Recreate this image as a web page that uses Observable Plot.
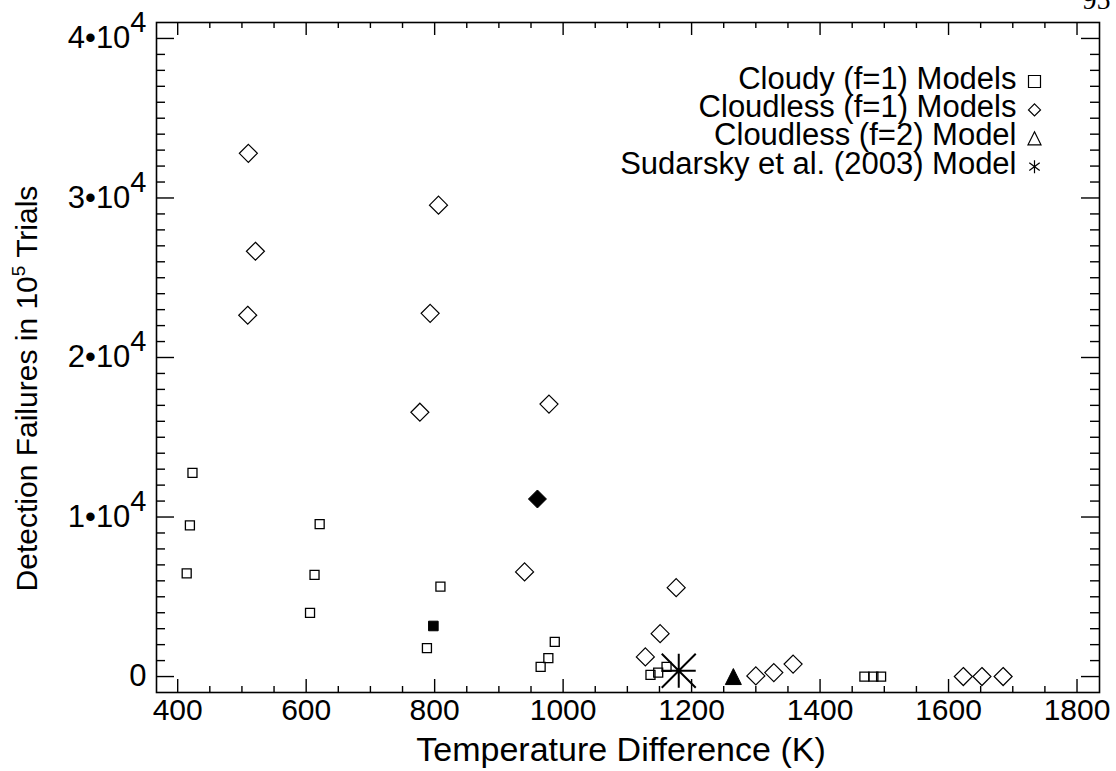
<!DOCTYPE html>
<html><head><meta charset="utf-8">
<script src="https://cdn.jsdelivr.net/npm/d3@7"></script>
<script src="https://cdn.jsdelivr.net/npm/@observablehq/plot@0.6"></script>
<style>
html,body{margin:0;padding:0;background:#fff;}
#chart{width:1116px;height:771px;overflow:hidden;}
</style></head><body><div id="chart"></div>
<script>
// ---- data ----
const cloudyX = [423, 419, 414, 621, 613, 606, 809, 788, 987, 977, 965, 1136, 1148, 1161, 1469, 1483, 1495];
const cloudyY = [12770, 9480, 6470, 9560, 6370, 3990, 5640, 1780, 2170, 1150, 610, 100, 250, 610, 0, 0, 0];
const cloudyFilledX = [798];
const cloudyFilledY = [3170];
const cloudlessX = [510, 806, 521, 509, 793, 777, 978, 940, 1176, 1151, 1128, 1300, 1328, 1358, 1623, 1652, 1685];
const cloudlessY = [32800, 29550, 26660, 22650, 22770, 16570, 17080, 6560, 5570, 2690, 1230, 40, 250, 780, 0, 0, 0];
const cloudlessFilledX = [960];
const cloudlessFilledY = [11130];
const cloudlessF2X = [1265];
const cloudlessF2Y = [0];
const sudarskyX = [1180];
const sudarskyY = [360];

const xMajor = [400, 600, 800, 1000, 1200, 1400, 1600, 1800];
const yMajor = [0, 10000, 20000, 30000, 40000];
const yMantissa = ["0", "1", "2", "3", "4"];
const yExponent = "4";
const xMinor = d3.range(400, 1801, 50).filter(v => !xMajor.includes(v));
const yMinor = d3.range(1000, 40001, 1000).filter(v => !yMajor.includes(v));

const legendLabels = ["Cloudy (f=1) Models", "Cloudless (f=1) Models", "Cloudless (f=2) Model", "Sudarsky et al. (2003) Model"];
const xTitle = "Temperature Difference (K)";
const yTitle = "Detection Failures in 10^5 Trials";
const pageNumber = "95";

// ---- symbols ----
const rOf = size => Math.sqrt(size / Math.PI);
const symSquare = {draw(c, s) { const r = rOf(s); c.moveTo(-r, -r); c.lineTo(r, -r); c.lineTo(r, r); c.lineTo(-r, r); c.closePath(); }};
const symDiamond = {draw(c, s) { const r = rOf(s); c.moveTo(0, -r); c.lineTo(r, 0); c.lineTo(0, r); c.lineTo(-r, 0); c.closePath(); }};
const symTriangle = {draw(c, s) { const r = rOf(s); c.moveTo(0, -r); c.lineTo(r, r); c.lineTo(-r, r); c.closePath(); }};
const symStar8 = {draw(c, s) { const r = rOf(s);
  c.moveTo(-r, 0); c.lineTo(r, 0); c.moveTo(0, -r); c.lineTo(0, r);
  c.moveTo(-r, -r); c.lineTo(r, r); c.moveTo(-r, r); c.lineTo(r, -r); }};
const symStar6 = {draw(c, s) { const r = rOf(s);
  c.moveTo(0, -r); c.lineTo(0, r);
  c.moveTo(-0.8 * r, -0.6 * r); c.lineTo(0.8 * r, 0.6 * r); c.moveTo(-0.8 * r, 0.6 * r); c.lineTo(0.8 * r, -0.6 * r); }};

const zip = (xs, ys) => xs.map((x, i) => ({x, y: ys[i]}));
const cloudy = zip(cloudyX, cloudyY);
const cloudyFilled = zip(cloudyFilledX, cloudyFilledY);
const cloudless = zip(cloudlessX, cloudlessY);
const cloudlessFilled = zip(cloudlessFilledX, cloudlessFilledY);
const cloudlessF2 = zip(cloudlessF2X, cloudlessF2Y);
const sudarsky = zip(sudarskyX, sudarskyY);

const W = 1116, H = 771, mL = 156, mR = 17, mT = 22, mB = 79;
const fw = W - mL - mR, fh = H - mT - mB;
const FONT = "'Liberation Sans', Arial, Helvetica, sans-serif";

const legendSymbols = [
  {symbol: symSquare, r: 6, fill: "none"},
  {symbol: symDiamond, r: 6, fill: "none"},
  {symbol: symTriangle, r: 6.5, fill: "none"},
  {symbol: symStar6, r: 6.5, fill: "none"}
];

const svg = Plot.plot({
  width: W, height: H,
  marginLeft: mL, marginRight: mR, marginTop: mT, marginBottom: mB,
  x: {domain: [367, 1835]},
  y: {domain: [-1000, 41000]},
  style: {fontFamily: FONT, background: "white", color: "black"},
  marks: [
    // ticks on all four sides
    Plot.tickX(xMajor, {x: d => d, insetTop: fh - 13, stroke: "black", strokeWidth: 1.4}),
    Plot.tickX(xMinor, {x: d => d, insetTop: fh - 6, stroke: "black", strokeWidth: 1.4}),
    Plot.tickX(xMajor, {x: d => d, insetBottom: fh - 13, stroke: "black", strokeWidth: 1.4}),
    Plot.tickX(xMinor, {x: d => d, insetBottom: fh - 6, stroke: "black", strokeWidth: 1.4}),
    Plot.tickY(yMajor, {y: d => d, insetRight: fw - 18, stroke: "black", strokeWidth: 1.4}),
    Plot.tickY(yMinor, {y: d => d, insetRight: fw - 9, stroke: "black", strokeWidth: 1.4}),
    Plot.tickY(yMajor, {y: d => d, insetLeft: fw - 18, stroke: "black", strokeWidth: 1.4}),
    Plot.tickY(yMinor, {y: d => d, insetLeft: fw - 9, stroke: "black", strokeWidth: 1.4}),
    Plot.frame({stroke: "black", strokeWidth: 1.6}),
    Plot.axisX(xMajor, {anchor: "bottom", tickSize: 0, tickPadding: 6, fontSize: 30, tickFormat: d => String(d), label: null}),
    Plot.axisY(yMajor, {anchor: "left", tickSize: 0, tickPadding: 10, fontSize: 31,
      tickFormat: d => { const i = yMajor.indexOf(d); return d === 0 ? yMantissa[i] : `${yMantissa[i]}•10^${yExponent}`; }, label: null}),
    Plot.text([xTitle], {frameAnchor: "bottom", dx: -7, dy: 68, lineAnchor: "bottom", fontSize: 34}),
    Plot.text([yTitle], {frameAnchor: "left", rotate: -90, dx: -120, dy: 31, lineAnchor: "bottom", textAnchor: "middle", fontSize: 30}),
    // data
    Plot.dot(cloudy, {x: "x", y: "y", symbol: symSquare, r: 4.5, stroke: "black", fill: "none", strokeWidth: 1.3}),
    Plot.dot(cloudyFilled, {x: "x", y: "y", symbol: symSquare, r: 4.8, stroke: "black", fill: "black", strokeWidth: 1}),
    Plot.dot(cloudless, {x: "x", y: "y", symbol: symDiamond, r: 9, stroke: "black", fill: "none", strokeWidth: 1.2}),
    Plot.dot(cloudlessFilled, {x: "x", y: "y", symbol: symDiamond, r: 9, stroke: "black", fill: "black", strokeWidth: 1}),
    Plot.dot(cloudlessF2, {x: "x", y: "y", symbol: symTriangle, r: 8, stroke: "black", fill: "black", strokeWidth: 1}),
    Plot.dot(sudarsky, {x: "x", y: "y", symbol: symStar8, r: 17, stroke: "black", fill: "none", strokeWidth: 2}),
    // legend
    Plot.text([legendLabels.join("\n")], {frameAnchor: "top-right", textAnchor: "end", lineAnchor: "top", dx: -83, dy: 46, fontSize: 31, lineHeight: 0.916}),
    ...legendSymbols.map((s, i) => Plot.dot([legendLabels[i]], {frameAnchor: "top-right", dx: -65, dy: 59 + i * 28.4, symbol: s.symbol, r: s.r, stroke: "black", fill: s.fill, strokeWidth: 1.2})),
    Plot.text([pageNumber], {frameAnchor: "top-right", textAnchor: "start", lineAnchor: "bottom", dx: -17, dy: -14, fontSize: 28, fontFamily: "'Liberation Serif', 'DejaVu Serif', serif"})
  ]
});

// superscripts: "a^b rest" -> a<tspan sup>b</tspan><tspan>rest</tspan>
const NS = "http://www.w3.org/2000/svg";
d3.select(svg).selectAll("text").each(function () {
  if (this.querySelector("tspan")) return;
  const s = this.textContent;
  const m = s.match(/^(.*?)\^(\d+)(.*)$/);
  if (!m) return;
  const isTitle = m[3].length > 0;
  const supSize = isTitle ? 19 : 29;
  const raise = isTitle ? 12 : 16;
  this.textContent = m[1];
  const sup = document.createElementNS(NS, "tspan");
  sup.setAttribute("dy", -raise);
  sup.setAttribute("font-size", supSize);
  sup.textContent = m[2];
  this.appendChild(sup);
  if (m[3]) {
    const rest = document.createElementNS(NS, "tspan");
    rest.setAttribute("dy", raise);
    rest.textContent = m[3];
    this.appendChild(rest);
  }
});

document.getElementById("chart").appendChild(svg);
</script>
</body></html>
